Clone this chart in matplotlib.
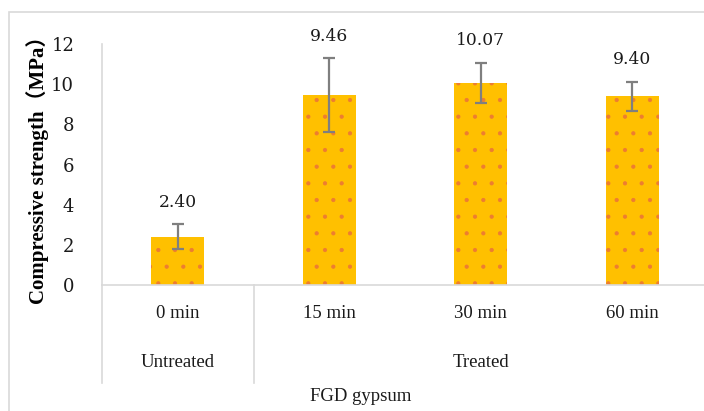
import numpy as np
import matplotlib
matplotlib.use('Agg')
import matplotlib.pyplot as plt
from matplotlib.patches import Rectangle

# compressive strength of FGD gypsum samples
times = ['0 min', '15 min', '30 min', '60 min']
groups = ['Untreated', 'Treated']
group_pos = [0, 2]          # category index each group label sits under
strength = [2.40, 9.46, 10.07, 9.40]
err = [0.62, 1.82, 1.00, 0.72]

plt.rcParams['font.family'] = ['Liberation Serif', 'Noto Sans CJK SC']
plt.rcParams['hatch.color'] = '#ED7D31'
plt.rcParams['hatch.linewidth'] = 0.6
num_font = ['DejaVu Serif']

fig = plt.figure(figsize=(7.04, 4.11), dpi=100)
ax = fig.add_axes([102/704, 126/411, 606/704, 241/411])

# light frame around the chart
fig.patches.append(Rectangle((9/704, -0.1), 1.2, (399)/411 + 0.1, transform=fig.transFigure,
                             fill=False, edgecolor='#D9D9D9', linewidth=1.2))

x = np.arange(len(times))
ax.bar(x, strength, width=0.35, color='#FFC000', hatch='.', linewidth=0)
ax.errorbar(x, strength, yerr=err, fmt='none', ecolor='#7F7F7F',
            elinewidth=1.6, capsize=4.5, capthick=1.6)

# value labels above the error bars
for xi, v, e in zip(x, strength, err):
    ax.annotate(f'{v:.2f}', (xi, v + e), xytext=(0, 16), textcoords='offset points',
                ha='center', va='center', fontsize=12.3, color='#1a1a1a',
                family=num_font)

ax.set_xlim(-0.5, 3.5)
ax.set_ylim(0, 12)
ax.set_yticks(np.arange(0, 13, 2))
ax.tick_params(axis='y', length=0, labelsize=13, pad=20, labelcolor='#1a1a1a')
for lbl in ax.get_yticklabels():
    lbl.set_family(num_font)
ax.set_xticks([])
for s in ['top', 'right']:
    ax.spines[s].set_visible(False)
for s in ['left', 'bottom']:
    ax.spines[s].set_color('#D9D9D9')
    ax.spines[s].set_linewidth(1.2)

ax.set_ylabel('Compressive strength（MPa）', fontsize=15, fontweight='bold',
              color='#000000')
ax.yaxis.set_label_coords(-0.087, 0.50)

# multi-level category axis
trans = ax.get_xaxis_transform()
for xb in [-0.5, 0.5]:
    ax.plot([xb, xb], [0, -0.407], transform=trans, color='#D9D9D9',
            linewidth=1.2, clip_on=False)
for xi, t in zip(x, times):
    ax.text(xi, -0.12, t, transform=trans, ha='center', va='center',
            fontsize=13.5, color='#1a1a1a')
for gp, g in zip(group_pos, groups):
    ax.text(gp, -0.32, g, transform=trans, ha='center', va='center',
            fontsize=13.5, color='#1a1a1a')
fig.text(361/704, 1 - 396/411, 'FGD gypsum', ha='center', va='center',
         fontsize=13.5, color='#1a1a1a')

fig.savefig('out.png', dpi=100)
